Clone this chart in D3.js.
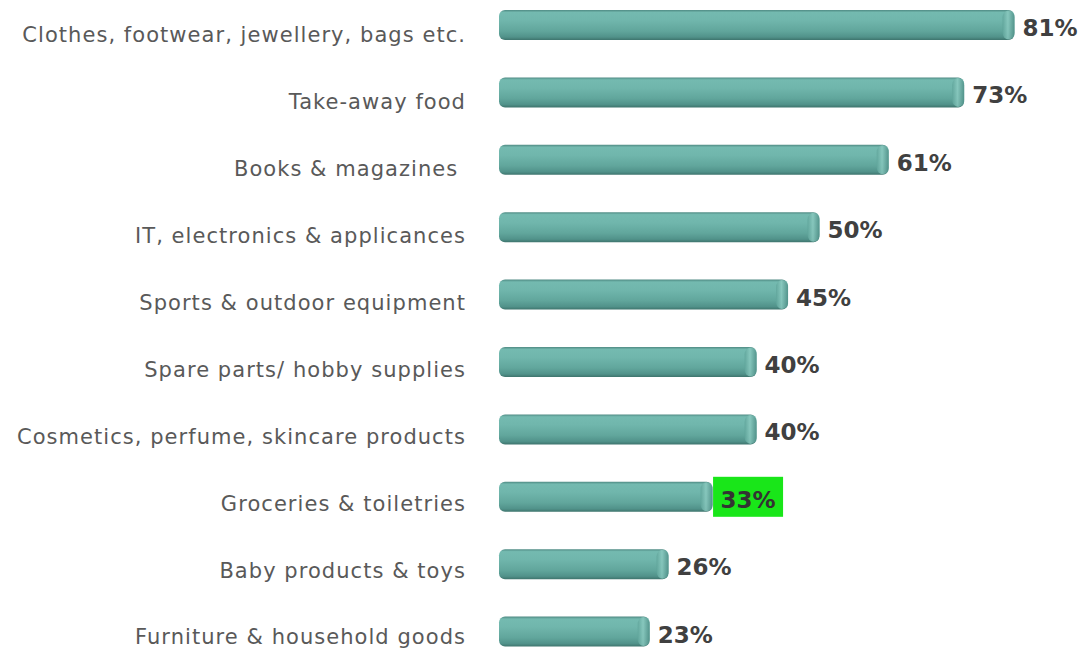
<!DOCTYPE html>
<html>
<head>
<meta charset="utf-8">
<script src="https://cdn.jsdelivr.net/npm/d3@7"></script>
<style>
  html, body { margin: 0; padding: 0; background: #fff; }
  svg { display: block; }
</style>
</head>
<body>
<svg id="chart" width="1084" height="651"></svg>
<script>
// Share of online shoppers buying each product category
const categories = [
  "Clothes, footwear, jewellery, bags etc.",
  "Take-away food",
  "Books & magazines ",
  "IT, electronics & applicances",
  "Sports & outdoor equipment",
  "Spare parts/ hobby supplies",
  "Cosmetics, perfume, skincare products",
  "Groceries & toiletries",
  "Baby products & toys",
  "Furniture & household goods"
];
const values = [81, 73, 61, 50, 45, 40, 40, 33, 26, 23];
const highlighted = ["Groceries & toiletries"];

const svg = d3.select("#chart");
const labelFont = "'DejaVu Sans', 'Noto Sans', sans-serif";
const valueFont = "'DejaVu Sans', 'Noto Sans', sans-serif";

const x = d3.scaleLinear().domain([0, 100]).range([505, 1134]);
// bar rows and label rows (labels sit a little lower and slightly tighter)
const y = d3.scaleBand().domain(categories).range([25 - 33.7, 25 + 67.4 * 9.5]);
const yLab = d3.scaleBand().domain(categories).range([35 - 33.45, 35 + 66.9 * 9.5]);
const barH = 30;

const defs = svg.append("defs");
const body = defs.append("linearGradient").attr("id", "cyl").attr("x1", 0).attr("y1", 0).attr("x2", 0).attr("y2", 1);
[[0, "#4f8a83"], [0.08, "#74bab0"], [0.35, "#70b6ac"], [0.7, "#61a69c"], [0.9, "#51928a"], [1, "#3e746d"]]
  .forEach(([o, c]) => body.append("stop").attr("offset", o).attr("stop-color", c));
const cap = defs.append("linearGradient").attr("id", "cap").attr("x1", 0).attr("y1", 0).attr("x2", 1).attr("y2", 0);
[[0, "#5fa49a"], [0.45, "#8ccbc1"], [1, "#4d8d85"]]
  .forEach(([o, c]) => cap.append("stop").attr("offset", o).attr("stop-color", c));

const data = categories.map((c, i) => ({ cat: c, val: values[i] }));

const rows = svg.selectAll("g.row")
  .data(data)
  .join("g").attr("class", "row")
  .attr("transform", d => `translate(0,${y(d.cat) + y.bandwidth() / 2 - barH / 2})`);

// cylinder body
rows.append("rect")
  .attr("x", x(0) - 6)
  .attr("y", 0)
  .attr("width", d => x(d.val) - x(0) + 6)
  .attr("height", barH)
  .attr("rx", 6).attr("ry", 6)
  .attr("fill", "url(#cyl)");

// rounded end cap
rows.append("rect")
  .attr("x", d => x(d.val) - 12)
  .attr("y", 0.5)
  .attr("width", 12)
  .attr("height", barH - 1)
  .attr("rx", 6).attr("ry", 7)
  .attr("fill", "url(#cap)")
  .attr("opacity", 0.8);

// highlight box behind selected value labels
rows.filter(d => highlighted.includes(d.cat))
  .append("rect")
  .attr("x", d => x(d.val) + 0.5)
  .attr("y", barH / 2 - 20)
  .attr("width", 70)
  .attr("height", 40)
  .attr("fill", "#19e619");

// value labels
rows.append("text")
  .attr("x", d => x(d.val) + 8)
  .attr("y", barH / 2 + 3)
  .attr("dy", "0.35em")
  .attr("font-family", valueFont)
  .attr("font-size", 23)
  .attr("font-weight", 700)
  .attr("fill", d => highlighted.includes(d.cat) ? "#333333" : "#404040")
  .text(d => d.val + "%");

// category labels
svg.selectAll("text.cat")
  .data(data)
  .join("text").attr("class", "cat")
  .attr("x", 466)
  .attr("y", d => yLab(d.cat) + yLab.bandwidth() / 2)
  .attr("dy", "0.35em")
  .attr("text-anchor", "end")
  .attr("font-family", labelFont)
  .attr("font-size", 21)
  .attr("letter-spacing", 1.05)
  .attr("fill", "#595959")
  .attr("xml:space", "preserve")
  .style("white-space", "pre")
  .text(d => d.cat);
</script>
</body>
</html>
